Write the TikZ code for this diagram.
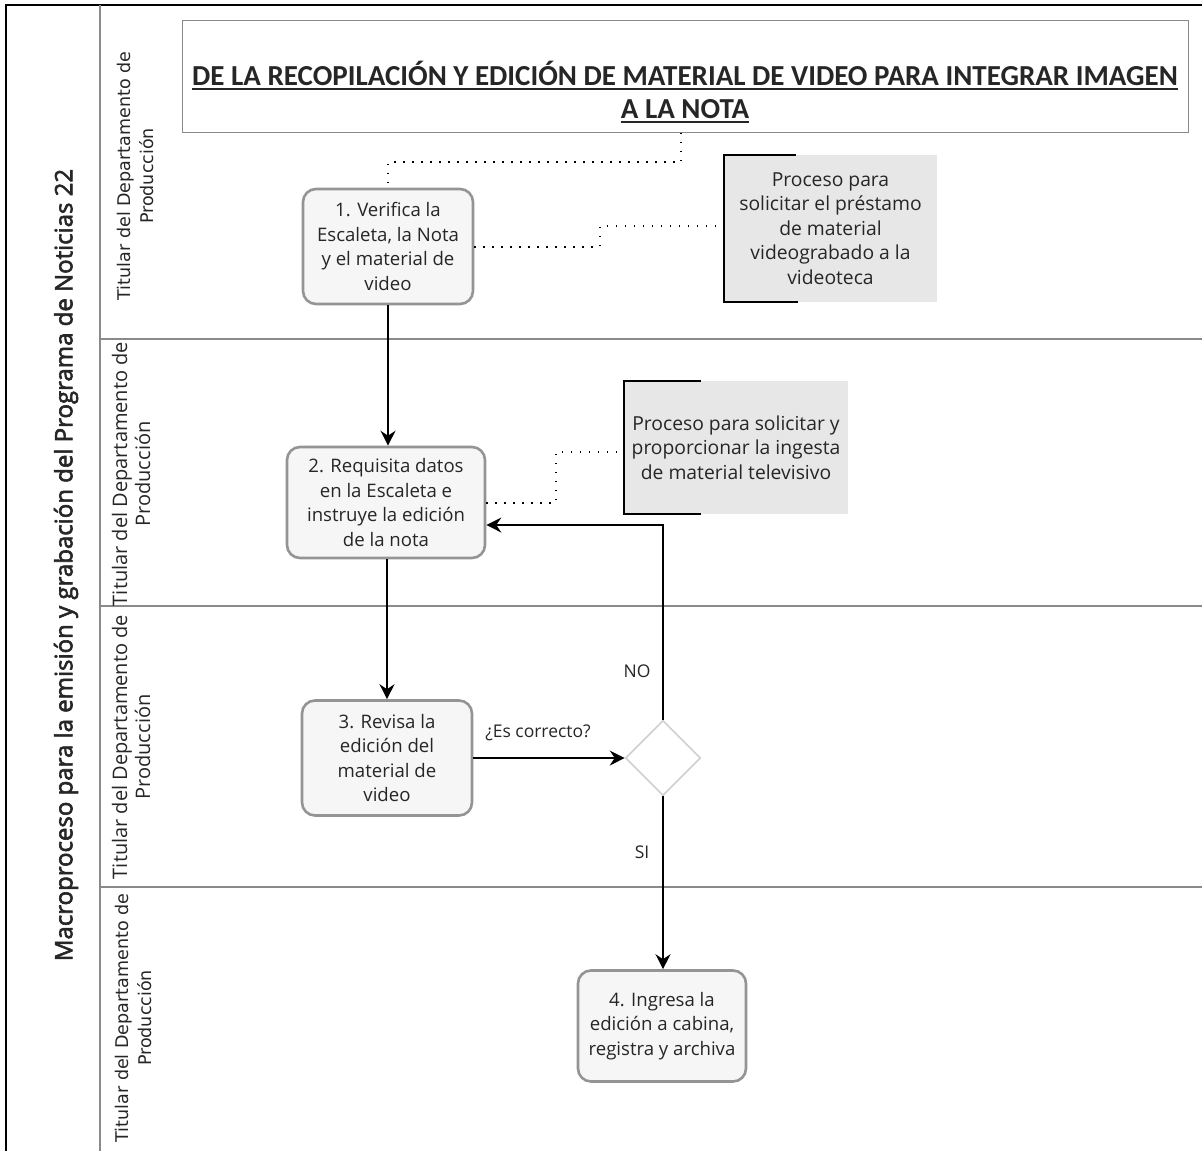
\documentclass[tikz,border=0pt]{standalone}
\usepackage{fontspec}
\setmainfont{Carlito}
\newfontfamily\hdrfont{Open Sans}
\newfontfamily\widefont{DejaVu Sans}
\newfontfamily\ttlfont[FakeBold=2.5]{Open Sans}
\usetikzlibrary{shapes.geometric,arrows.meta,calc}
\definecolor{lanegray}{HTML}{8A8A8A}
\definecolor{boxedge}{HTML}{949494}
\definecolor{boxfill}{HTML}{F6F6F6}
\definecolor{notefill}{HTML}{E7E7E7}
\definecolor{diaedge}{HTML}{CFCFCF}
\definecolor{inkc}{HTML}{262626}
% underlined line of text with a heavy rule
\newcommand{\heavyul}[1]{\leavevmode\setbox0\hbox{#1}\rlap{\copy0}\rule[-5pt]{\wd0}{2pt}}
\tikzset{
  lane/.style={draw=lanegray, line width=1.2pt},
  frame/.style={draw=black, line width=1.4pt},
  lanelabel/.style={font=\hdrfont\fontsize{20}{23}\selectfont, rotate=90, align=center, text=inkc},
  lanelabelwide/.style={font=\widefont\fontsize{17.5}{23}\selectfont, rotate=90, align=center, text=inkc},
  stepbox/.style={draw=boxedge, line width=2.6pt, fill=boxfill, rounded corners=13pt,
    align=center, inner sep=0pt, text=inkc, font=\hdrfont\fontsize{18.6}{24.5}\selectfont},
  notebox/.style={fill=notefill, align=center, inner sep=0pt, text=inkc,
    font=\hdrfont\fontsize{19.3}{24.5}\selectfont},
  dotline/.style={draw=black, line width=2pt, dash pattern=on 1.6pt off 7.4pt},
  flow/.style={draw=black, line width=1.4pt, -{Stealth[length=15pt,width=15pt,inset=5pt]}},
  tag/.style={font=\hdrfont\fontsize{17.5}{22}\selectfont, text=inkc, inner sep=0pt}
}
\begin{document}
\begin{tikzpicture}[x=1pt,y=-1pt]
  \useasboundingbox (0,0) rectangle (1202,1151);
  \fill[white] (0,0) rectangle (1202,1151);

  % pool frame and lanes
  \draw[frame] (6,1151) -- (6,5) -- (1202,5);
  \draw[lane] (100,5) -- (100,1151);
  \draw[lane] (100,339) -- (1202,339);
  \draw[lane] (100,606) -- (1202,606);
  \draw[lane] (100,887) -- (1202,887);

  % pool title
  \node[font=\ttlfont\fontsize{24}{28}\selectfont, rotate=90, text=inkc] (pool) at (66,565)
    {Macroproceso para la emisión y grabación del Programa de Noticias 22};

  % lane titles
  \node[lanelabelwide] (l1) at (135,176) {Titular del Departamento de\\Producción};
  \node[lanelabel] (l2) at (131,474) {Titular del Departamento de\\Producción};
  \node[lanelabel] (l3) at (131,747) {Titular del Departamento de\\Producción};
  \node[lanelabelwide] (l4) at (133,1018) {Titular del Departamento de\\Producción};

  % heading box and its text
  \node[draw=lanegray, line width=1pt, minimum width=1006pt, minimum height=112pt,
        inner sep=0pt] (title) at (685,76) {};
  \node[align=center, inner sep=0pt, text=inkc,
        font=\bfseries\fontsize{29}{33}\selectfont] (titletext) at (685,92)
    {\heavyul{DE LA RECOPILACIÓN Y EDICIÓN DE MATERIAL DE VIDEO PARA INTEGRAR IMAGEN}\\
     \heavyul{A LA NOTA}};

  % activities
  \node[stepbox, minimum width=170pt, minimum height=115pt] (b1) at (388,246.5)
    {1. Verifica la\\Escaleta, la Nota\\y el material de\\video};
  \node[stepbox, minimum width=198pt, minimum height=111pt] (b2) at (386,502.5)
    {2. Requisita datos\\en la Escaleta e\\instruye la edición\\de la nota};
  \node[stepbox, minimum width=170pt, minimum height=115pt] (b3) at (387,758)
    {3. Revisa la\\edición del\\material de\\video};
  \node[stepbox, minimum width=168pt, minimum height=111pt] (b4) at (662,1026)
    {4. Ingresa la\\edición a cabina,\\registra y archiva};

  % decision
  \node[diamond, draw=diaedge, line width=1.6pt, fill=white, minimum width=75pt,
        minimum height=75pt, inner sep=0pt] (d) at (663,758) {};

  % annotations
  \node[notebox, minimum width=213pt, minimum height=147pt] (n1) at (830.5,228.5)
    {Proceso para\\solicitar el préstamo\\de material\\videograbado a la\\videoteca};
  \draw[black, line width=1.6pt] ($(n1.north west)+(72,0)$) -- (n1.north west)
    -- (n1.south west) -- ($(n1.south west)+(74,0)$);
  \node[notebox, minimum width=224pt, minimum height=133pt] (n2) at (736,447.5)
    {Proceso para solicitar y\\proporcionar la ingesta\\de material televisivo};
  \draw[black, line width=1.6pt] ($(n2.north west)+(77,0)$) -- (n2.north west)
    -- (n2.south west) -- ($(n2.south west)+(77,0)$);

  % associations
  \coordinate (a0) at (681,162);
  \draw[dotline] (title.south -| a0) -- (a0) -| (b1.north);
  \coordinate (a1) at (600,226);
  \draw[dotline] (b1.east) -| (a1) -- (a1 -| n1.west);
  \coordinate (a2) at (556,452);
  \draw[dotline] (b2.east) -| (a2) -- (a2 -| n2.west);

  % sequence flows
  \draw[flow] (b1.south) -- (b1.south |- b2.north);
  \draw[flow] (b2.south -| b3.north) -- (b3.north);
  \draw[flow] (b3.east) -- (d.west);
  \coordinate (a3) at (0,525);
  \draw[flow] (d.north) |- (b2.east |- a3);
  \draw[flow] (d.south) -- (d.south |- b4.north);

  % flow labels
  \node[tag] (q) at (538,733) {¿Es correcto?};
  \node[tag] (no) at (637,671) {NO};
  \node[tag] (si) at (642,852) {SI};
\end{tikzpicture}
\end{document}
